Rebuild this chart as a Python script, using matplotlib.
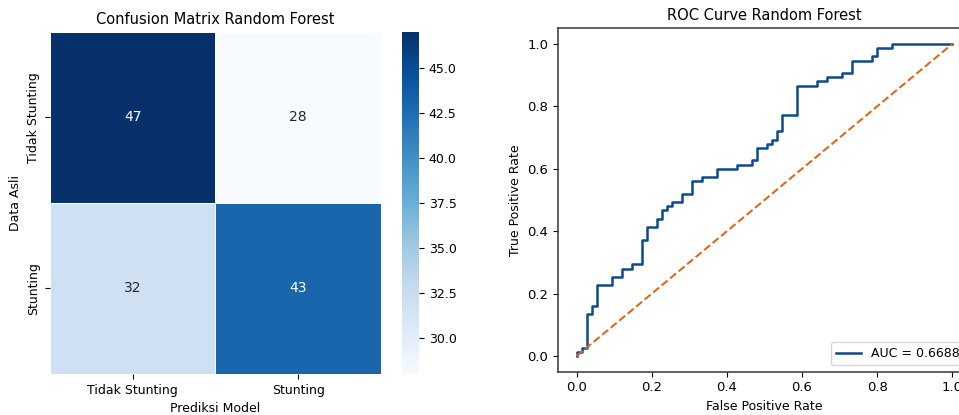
import numpy as np
import matplotlib
matplotlib.use("Agg")
import matplotlib.pyplot as plt
import seaborn as sns

# Confusion matrix values
labels = ["Tidak Stunting", "Stunting"]
cm = np.array([[47, 28],
               [32, 43]])

# ROC curve corner points, as counts of false / true positives
n_neg = 75
n_pos = 75
fp_counts = [0, 0, 1, 1, 2, 2, 3, 3, 4, 4, 7, 7, 9, 9, 11, 11, 13, 13, 14, 14,
             16, 16, 17, 17, 18, 18, 19, 19, 21, 21, 23, 23, 25, 25, 28, 28,
             32, 32, 35, 35, 36, 36, 38, 38, 39, 39, 40, 40, 41, 41, 44, 44,
             48, 48, 50, 50, 53, 53, 55, 55, 59, 59, 60, 60, 63, 63, 75]
tp_counts = [0, 1, 1, 2, 2, 10, 10, 12, 12, 17, 17, 19, 19, 21, 21, 22, 22, 28,
             28, 31, 31, 33, 33, 35, 35, 36, 36, 37, 37, 39, 39, 42, 42, 43, 43,
             45, 45, 46, 46, 47, 47, 50, 50, 51, 51, 52, 52, 54, 54, 58, 58, 65,
             65, 66, 66, 67, 67, 68, 68, 71, 71, 72, 72, 74, 74, 75, 75]
auc_value = 0.6688

fpr = np.array(fp_counts) / n_neg
tpr = np.array(tp_counts) / n_pos

fig = plt.figure(figsize=(9.59, 4.15), dpi=100)

# Left: heatmap
ax1 = fig.add_axes([0.0521, 0.0988, 0.3452, 0.8241])
cax = fig.add_axes([0.4192, 0.0988, 0.0177, 0.8241])
sns.heatmap(cm, annot=True, fmt="d", cmap="Blues", ax=ax1, cbar_ax=cax,
            xticklabels=labels, yticklabels=labels,
            linewidths=0.5, linecolor="white")
ax1.set_title("Confusion Matrix Random Forest", fontsize=10.5)
ax1.set_xlabel("Prediksi Model", fontsize=9)
ax1.set_ylabel("Data Asli", fontsize=9)
ax1.tick_params(labelsize=9)
cax.tick_params(labelsize=9)
for sp in cax.spines.values():
    sp.set_visible(False)

# Right: ROC curve
ax2 = fig.add_axes([0.5818, 0.1046, 0.4307, 0.827])
ax2.plot(fpr, tpr, color="#0d4a8c", lw=1.8, label=f"AUC = {auc_value:.4f}")
ax2.plot([0, 1], [0, 1], color="#dc6a1c", lw=1.5, linestyle="--")
ax2.set_title("ROC Curve Random Forest", fontsize=10.5)
ax2.set_xlabel("False Positive Rate", fontsize=9)
ax2.set_ylabel("True Positive Rate", fontsize=9)
ax2.tick_params(labelsize=9.5)
for sp in ax2.spines.values():
    sp.set_linewidth(1.2)
    sp.set_color("#444444")
ax2.legend(loc="lower right", fontsize=9)

fig.savefig("out.png", dpi=100)
